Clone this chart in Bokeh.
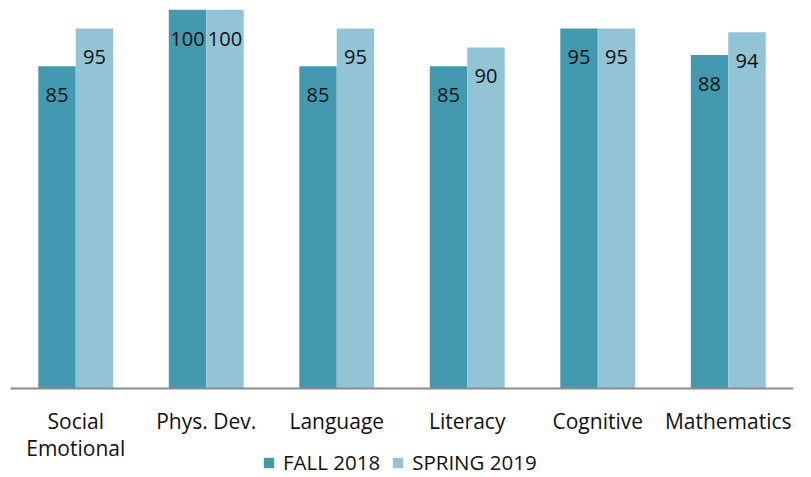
from bokeh.plotting import figure
from bokeh.models import ColumnDataSource, FactorRange, Range1d, Legend, LegendItem, Span
from bokeh.transform import dodge
from bokeh.embed import file_html
from bokeh.resources import INLINE
from bokeh.core.properties import value

categories = ["Social Emotional", "Phys. Dev.", "Language", "Literacy", "Cognitive", "Mathematics"]
tick_labels = ["Social\nEmotional", "Phys. Dev.", "Language", "Literacy", "Cognitive", "Mathematics"]
fall_2018 = [85, 100, 85, 85, 95, 88]
spring_2019 = [95, 100, 95, 90, 95, 94]
series_names = ["FALL 2018", "SPRING 2019"]

DARK = "#4399B0"
LIGHT = "#93C4D6"
FONT = "Open Sans"
TXT = "#111111"

src = ColumnDataSource(dict(
    cat=categories,
    fall=fall_2018,
    spring=spring_2019,
    fall_lbl=[str(v) for v in fall_2018],
    spring_lbl=[str(v) for v in spring_2019],
    line1=[t.split("\n")[0] for t in tick_labels],
    line2=[t.split("\n")[1] if "\n" in t else "" for t in tick_labels],
    zero=[0] * len(categories),
))

# frame: 100 at 9px from top, 0 at 388px; extra room below 0 holds labels + legend
H = 476
px_per_unit = (388 - 9) / 100.0
y_bottom = -(H - 388) / px_per_unit

p = figure(
    x_range=FactorRange(*categories),
    y_range=Range1d(y_bottom, 100),
    width=803, height=H,
    output_backend="svg", toolbar_location=None,
    min_border_left=10, min_border_right=10, min_border_top=9, min_border_bottom=0,
)

bw = 0.287
off = bw / 2
r1 = p.vbar(x=dodge("cat", -off, range=p.x_range), top="fall", width=bw, source=src,
            fill_color=DARK, line_color=None)
r2 = p.vbar(x=dodge("cat", off, range=p.x_range), top="spring", width=bw, source=src,
            fill_color=LIGHT, line_color=None)

for col, lbl, sign in (("fall", "fall_lbl", -1), ("spring", "spring_lbl", 1)):
    p.text(x=dodge("cat", sign * off, range=p.x_range), y=col, text=lbl, source=src,
           text_align="center", text_baseline="middle", y_offset=29,
           text_font=value(FONT), text_font_size="20px", text_color=TXT)

p.xaxis.visible = False
p.yaxis.visible = False
p.grid.visible = False
p.outline_line_color = None

# baseline (category axis line)
p.add_layout(Span(location=0, dimension="width", line_color="#8c8c8c", line_width=2))

# category labels (two lines where needed)
for col, dy in (("line1", 32), ("line2", 59)):
    p.text(x="cat", y="zero", text=col, source=src, y_offset=dy,
           text_align="center", text_baseline="middle",
           text_font=value(FONT), text_font_size="21px", text_color=TXT)

legend = Legend(
    items=[LegendItem(label=series_names[0], renderers=[r1]),
           LegendItem(label=series_names[1], renderers=[r2])],
    orientation="horizontal", location=(252, 0),
    glyph_width=13, glyph_height=13, label_standoff=8, spacing=11,
    label_text_font=FONT, label_text_font_size="20.5px", label_text_color=TXT,
    border_line_color=None, background_fill_alpha=0, padding=0, margin=0,
)
p.add_layout(legend, "center")

open("out.html", "w").write(file_html(p, INLINE))
